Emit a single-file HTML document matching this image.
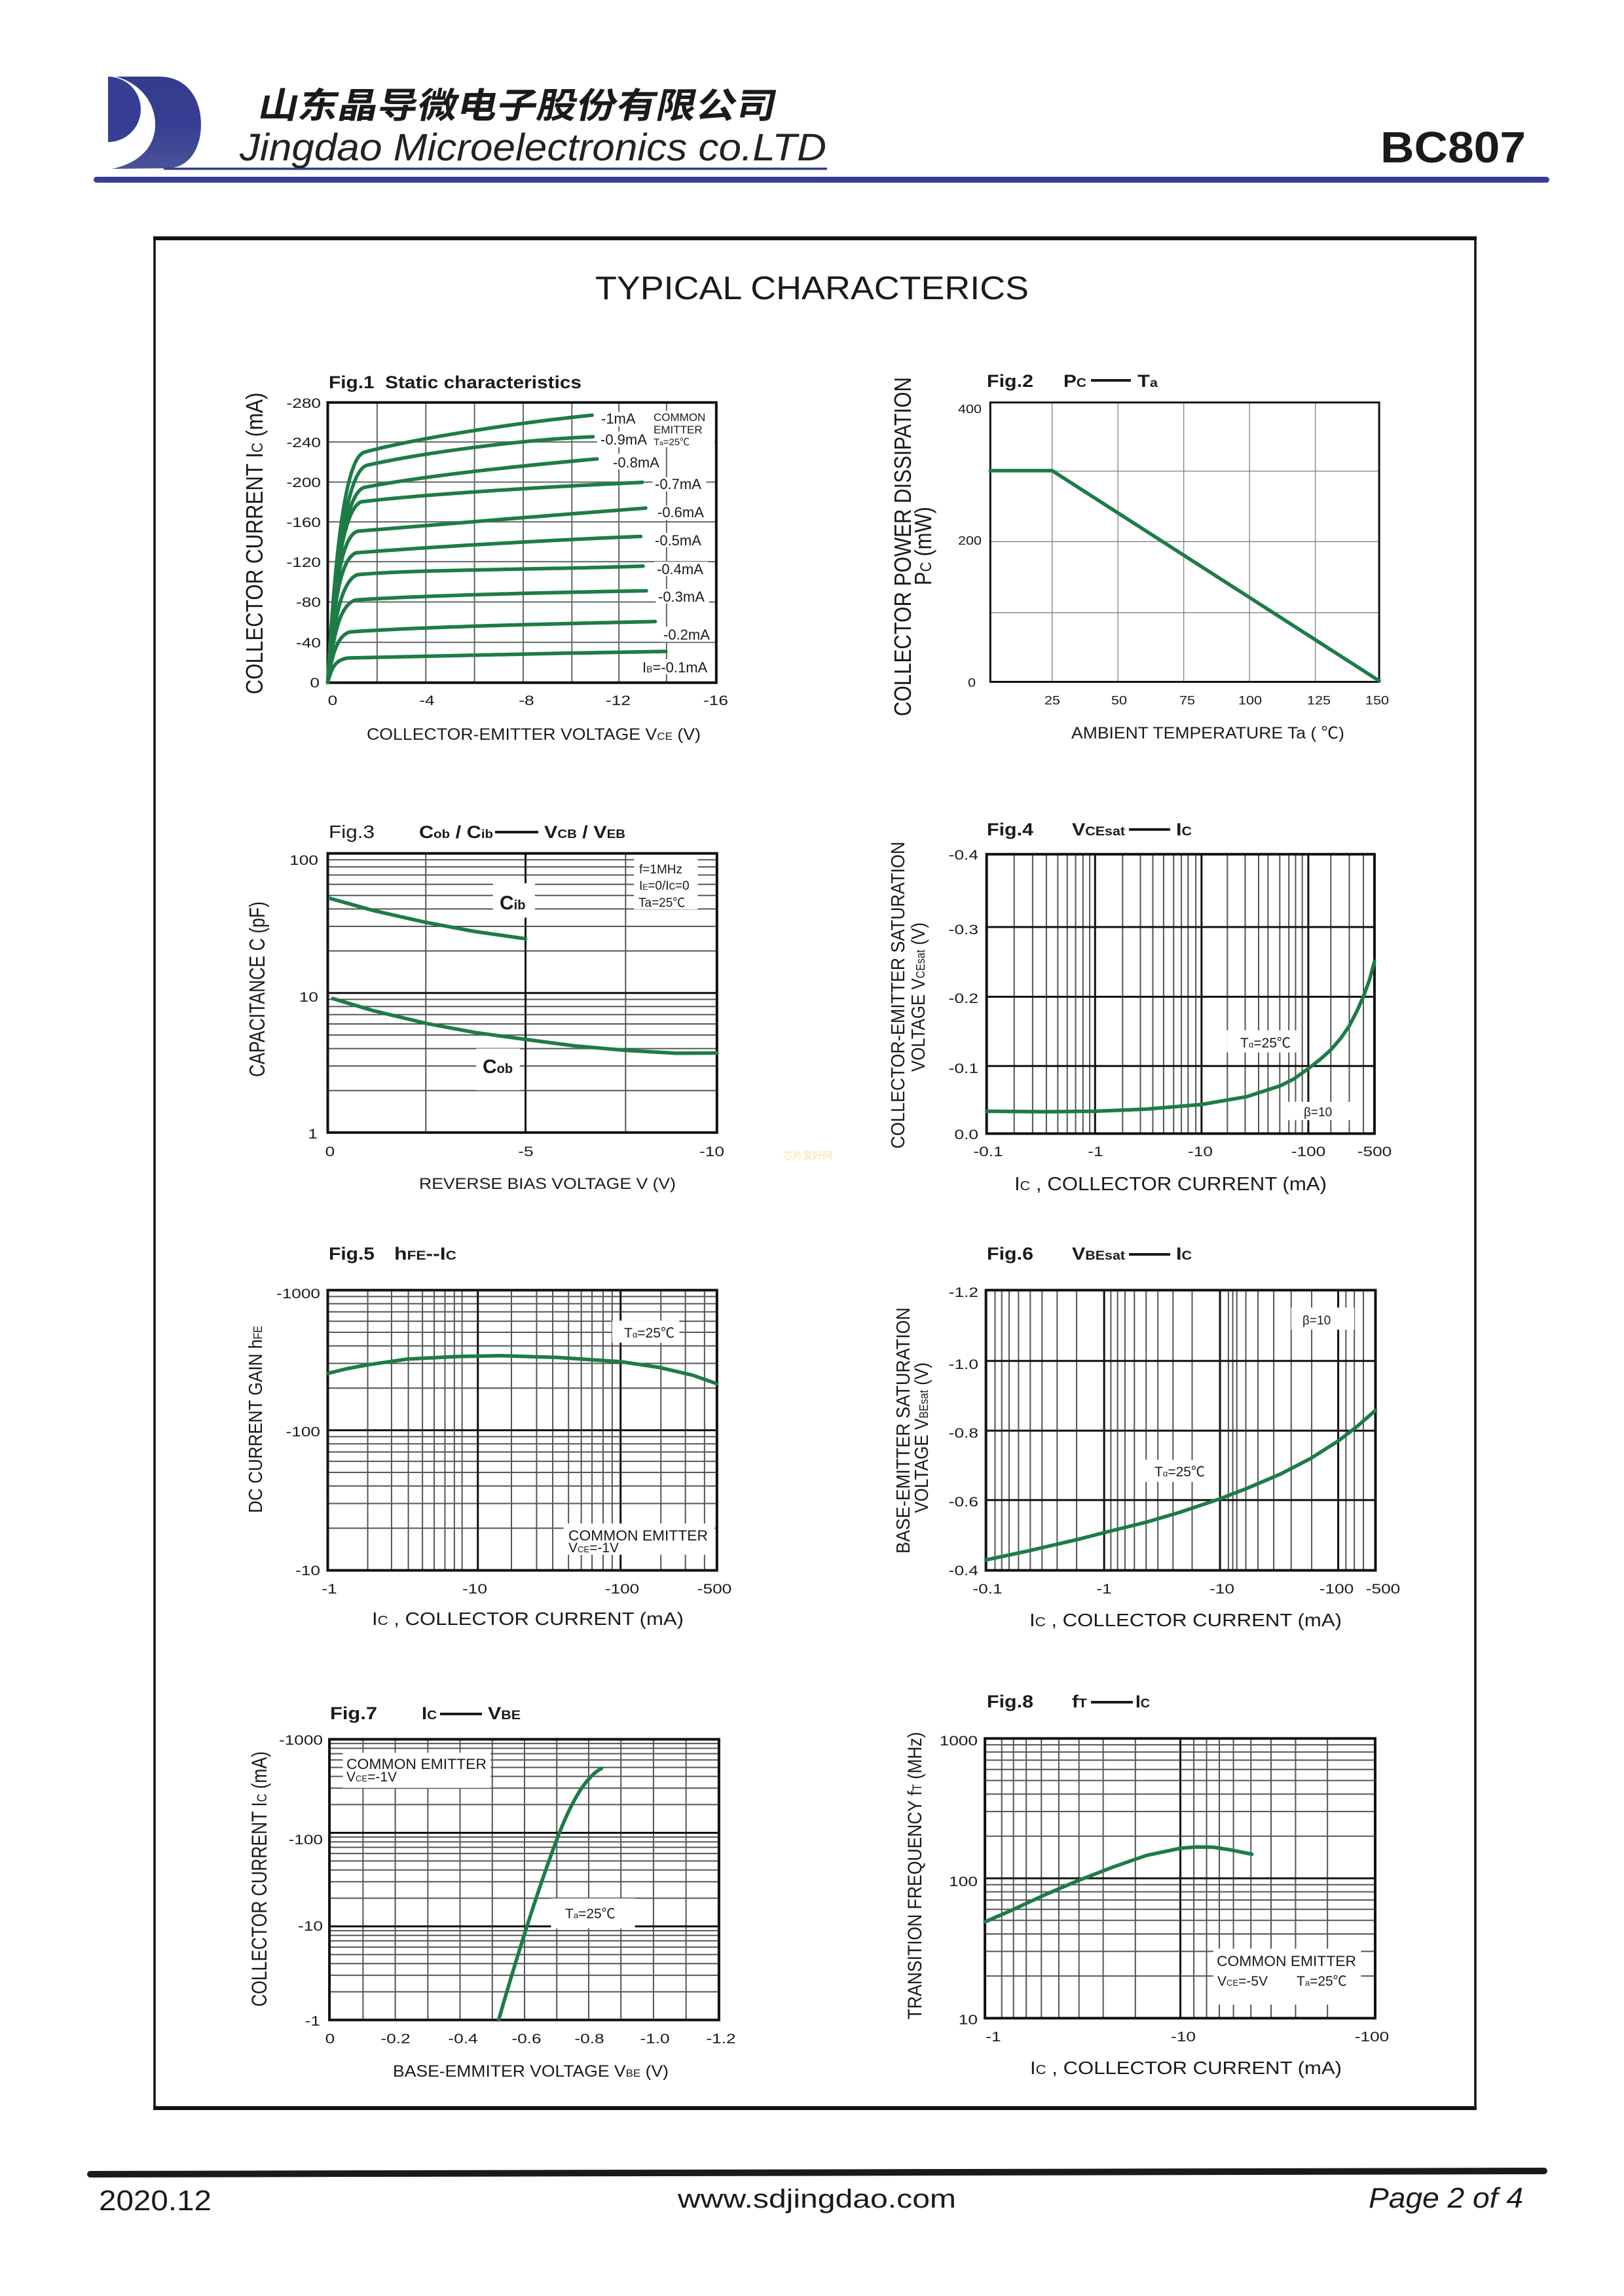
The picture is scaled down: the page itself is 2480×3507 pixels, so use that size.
<!DOCTYPE html>
<html><head><meta charset="utf-8"><style>
html,body{margin:0;padding:0;background:#fff;}
svg{display:block;}
text{font-family:"Liberation Sans","Noto Sans CJK SC",sans-serif;fill:#1a1a1a;}
.g{fill:none;stroke:#555;stroke-width:2;}
.g1{fill:none;stroke:#666;stroke-width:2;}
.mj{fill:none;stroke:#111;stroke-width:3;}
.bx{fill:none;stroke:#111;stroke-width:4;}
.cv{fill:none;stroke:#1d7c46;stroke-width:5.5;stroke-linecap:round;stroke-linejoin:round;}
.wb{fill:#fff;stroke:none;}
.tk{font-size:21px;}
.tk2{font-size:18px;fill:#333;}
.lb{font-size:22px;}
.tt{font-size:27px;font-weight:bold;}
</style></head><body>
<svg width="2480" height="3507" viewBox="0 0 2480 3507" xmlns="http://www.w3.org/2000/svg">
<defs>
<linearGradient id="lg" x1="0" y1="0" x2="0" y2="1">
<stop offset="0" stop-color="#343c8e"/><stop offset="0.5" stop-color="#353e92"/><stop offset="1" stop-color="#4a5298"/>
</linearGradient>
</defs>
<rect x="0" y="0" width="2480" height="3507" fill="#fff"/>

<!-- HEADER -->
<path d="M165,117 L243,117 C285,117 307,150 307,190 C307,228 288,257 255,257 L165,258 Z" fill="url(#lg)"/>
<path d="M165,117 L177,117 C217,128 238,160 237,192 C236,228 208,252 165,259 Z" fill="#fff"/>
<path d="M165,117 A50,50 0 0 1 165,217 Z" fill="#353e92"/>
<rect x="250" y="256" width="1013" height="3.5" fill="#353e92"/>
<text transform="translate(392,180) skewX(-12)" font-size="54" font-weight="bold" textLength="790" lengthAdjust="spacingAndGlyphs" style='font-family:"Noto Sans CJK SC","WenQuanYi Zen Hei",sans-serif'>山东晶导微电子股份有限公司</text>
<text x="366" y="245" font-size="58" font-style="italic" textLength="896" lengthAdjust="spacingAndGlyphs" style="fill:#222">Jingdao Microelectronics co.LTD</text>
<text x="2108" y="248" font-size="67" font-weight="bold" textLength="222" lengthAdjust="spacingAndGlyphs">BC807</text>
<rect x="143" y="270" width="2223" height="9" rx="4.5" fill="#373f94"/>

<!-- FRAME -->
<rect x="236" y="364" width="2017" height="2856" fill="none" stroke="#111" stroke-width="3.5"/>
<rect x="234" y="361" width="2021" height="6" fill="#111"/>
<rect x="234" y="3217" width="2021" height="6" fill="#111"/>
<text x="909" y="457" font-size="50" textLength="662" lengthAdjust="spacingAndGlyphs">TYPICAL CHARACTERICS</text>

<!-- ================= FIG 1 ================= -->
<g transform="translate(340,540) scale(0.5128,0.3974)">
<path class="g1" vector-effect="non-scaling-stroke" d="M460,188V1265M605,188V1265M750,188V1265M895,188V1265M1040,188V1265M1180,188V1265M1322,188V1265M313,340H1470M313,494H1470M313,647H1470M313,800H1470M313,955H1470M313,1110H1470"/>
<rect class="wb" x="1115" y="225" width="130" height="55"/>
<rect class="wb" x="1275" y="220" width="190" height="140"/>
<rect class="wb" x="1115" y="300" width="160" height="60"/>
<rect class="wb" x="1155" y="385" width="160" height="60"/>
<rect class="wb" x="1280" y="475" width="160" height="55"/>
<rect class="wb" x="1285" y="585" width="160" height="55"/>
<rect class="wb" x="1280" y="690" width="160" height="55"/>
<rect class="wb" x="1285" y="800" width="160" height="55"/>
<rect class="wb" x="1290" y="905" width="158" height="55"/>
<rect class="wb" x="1305" y="1050" width="160" height="58"/>
<rect class="wb" x="1245" y="1175" width="217" height="57"/>
<rect class="bx" vector-effect="non-scaling-stroke" x="313" y="188" width="1157" height="1077"/>
<g class="cv" vector-effect="non-scaling-stroke">
<path vector-effect="non-scaling-stroke" d="M313,1265 C325,1200 340,1175 375,1170 C600,1162 1000,1152 1320,1145"/>
<path vector-effect="non-scaling-stroke" d="M313,1265 C325,1150 345,1080 380,1070 C600,1050 1000,1038 1288,1030"/>
<path vector-effect="non-scaling-stroke" d="M313,1265 C328,1080 350,960 398,947 C600,930 1000,918 1262,912"/>
<path vector-effect="non-scaling-stroke" d="M313,1265 C330,1020 355,870 402,850 C550,830 1000,830 1252,817"/>
<path vector-effect="non-scaling-stroke" d="M313,1265 C330,960 350,790 397,766 C600,745 1000,715 1245,703"/>
<path vector-effect="non-scaling-stroke" d="M313,1265 C330,900 355,700 402,683 C600,660 1000,620 1260,594"/>
<path vector-effect="non-scaling-stroke" d="M313,1265 C332,850 360,600 412,570 C600,540 1000,510 1250,495"/>
<path vector-effect="non-scaling-stroke" d="M313,1265 C335,820 365,545 420,515 C600,470 900,430 1115,405"/>
<path vector-effect="non-scaling-stroke" d="M313,1265 C337,780 370,460 428,430 C600,380 900,330 1103,320"/>
<path vector-effect="non-scaling-stroke" d="M313,1265 C335,760 365,410 420,380 C560,330 850,270 1100,237"/>
</g>
</g>
<text class="tt" x="502" y="593" textLength="386" lengthAdjust="spacingAndGlyphs">Fig.1&#160; Static characteristics</text>
<g class="tk" text-anchor="end">
<text x="490" y="623" textLength="52.5" lengthAdjust="spacingAndGlyphs">-280</text>
<text x="490" y="683" textLength="52.5" lengthAdjust="spacingAndGlyphs">-240</text>
<text x="490" y="744" textLength="52.5" lengthAdjust="spacingAndGlyphs">-200</text>
<text x="490" y="805" textLength="52.5" lengthAdjust="spacingAndGlyphs">-160</text>
<text x="490" y="866" textLength="52.5" lengthAdjust="spacingAndGlyphs">-120</text>
<text x="490" y="927" textLength="38" lengthAdjust="spacingAndGlyphs">-80</text>
<text x="490" y="989" textLength="38" lengthAdjust="spacingAndGlyphs">-40</text>
<text x="488" y="1050" textLength="14.6" lengthAdjust="spacingAndGlyphs">0</text>
</g>
<g class="tk" text-anchor="middle">
<text x="508" y="1077" textLength="14.6" lengthAdjust="spacingAndGlyphs">0</text>
<text x="652" y="1077" textLength="23.4" lengthAdjust="spacingAndGlyphs">-4</text>
<text x="804" y="1077" textLength="23.4" lengthAdjust="spacingAndGlyphs">-8</text>
<text x="944" y="1077" textLength="38" lengthAdjust="spacingAndGlyphs">-12</text>
<text x="1093" y="1077" textLength="38" lengthAdjust="spacingAndGlyphs">-16</text>
</g>
<g class="lb">
<text x="918" y="647">-1mA</text>
<text x="917" y="679">-0.9mA</text>
<text x="936" y="714">-0.8mA</text>
<text x="1000" y="747">-0.7mA</text>
<text x="1004" y="790">-0.6mA</text>
<text x="1000" y="833">-0.5mA</text>
<text x="1003" y="877">-0.4mA</text>
<text x="1005" y="919">-0.3mA</text>
<text x="1013" y="977">-0.2mA</text>
<text x="981" y="1027">I<tspan font-size="14">B</tspan>=-0.1mA</text>
</g>
<text x="998" y="643" font-size="17">COMMON</text>
<text x="998" y="662" font-size="17">EMITTER</text>
<text x="998" y="680" font-size="15">T<tspan font-size="10">a</tspan>=25℃</text>
<text transform="translate(401,830) rotate(-90)" text-anchor="middle" font-size="36" textLength="461" lengthAdjust="spacingAndGlyphs">COLLECTOR CURRENT I<tspan font-size="24">C</tspan> (mA)</text>
<text x="560" y="1130" font-size="25" textLength="510" lengthAdjust="spacingAndGlyphs">COLLECTOR-EMITTER VOLTAGE V<tspan font-size="16">CE</tspan> (V)</text>

<!-- ================= FIG 2 ================= -->
<g transform="translate(1340,540) scale(0.5128,0.3974)">
<path fill="none" stroke="#808080" stroke-width="1.3" vector-effect="non-scaling-stroke" d="M520,188V1262M716,188V1262M912,188V1262M1108,188V1262M1304,188V1262M336,452H1494M336,723H1494M336,996H1494"/>
<rect fill="none" stroke="#111" stroke-width="3" vector-effect="non-scaling-stroke" x="336" y="188" width="1158" height="1074"/>
<path class="cv" vector-effect="non-scaling-stroke" d="M336,450 L520,450 L1494,1258"/>
</g>
<text class="tt" x="1507" y="591" textLength="71" lengthAdjust="spacingAndGlyphs">Fig.2</text>
<text class="tt" x="1624" y="591" font-size="30" textLength="35" lengthAdjust="spacingAndGlyphs">P<tspan font-size="19">C</tspan></text>
<rect x="1666" y="579" width="61" height="4" fill="#1a1a1a"/>
<text class="tt" x="1737" y="591" font-size="30" textLength="31" lengthAdjust="spacingAndGlyphs">T<tspan font-size="19">a</tspan></text>
<g class="tk2" text-anchor="end">
<text x="1499" y="631" textLength="36" lengthAdjust="spacingAndGlyphs">400</text>
<text x="1499" y="832" textLength="36" lengthAdjust="spacingAndGlyphs">200</text>
<text x="1490" y="1049" textLength="12" lengthAdjust="spacingAndGlyphs">0</text>
</g>
<g class="tk2" text-anchor="middle">
<text x="1607" y="1076" textLength="24" lengthAdjust="spacingAndGlyphs">25</text>
<text x="1709" y="1076" textLength="24" lengthAdjust="spacingAndGlyphs">50</text>
<text x="1813" y="1076" textLength="24" lengthAdjust="spacingAndGlyphs">75</text>
<text x="1909" y="1076" textLength="36" lengthAdjust="spacingAndGlyphs">100</text>
<text x="2014" y="1076" textLength="36" lengthAdjust="spacingAndGlyphs">125</text>
<text x="2103" y="1076" textLength="36" lengthAdjust="spacingAndGlyphs">150</text>
</g>
<text transform="translate(1391,835) rotate(-90)" text-anchor="middle" font-size="36" textLength="518" lengthAdjust="spacingAndGlyphs">COLLECTOR POWER DISSIPATION</text>
<text transform="translate(1422,834) rotate(-90)" text-anchor="middle" font-size="36" textLength="120" lengthAdjust="spacingAndGlyphs">P<tspan font-size="24">C</tspan> (mW)</text>
<text x="1636" y="1128" font-size="25" textLength="417" lengthAdjust="spacingAndGlyphs">AMBIENT TEMPERATURE Ta ( ℃)</text>

<!-- ================= FIG 3 ================= -->
<g transform="translate(340,1230) scale(0.5128,0.3974)">
<path class="g" vector-effect="non-scaling-stroke" d="M313,1096.5H1472M313,1002H1472M313,935H1472M313,883H1472M313,840.5H1472M313,804.6H1472M313,773.5H1472M313,746H1472M313,560H1472M313,465.5H1472M313,398.5H1472M313,346.5H1472M313,304H1472M313,268H1472M313,237H1472M313,209.5H1472M605,185V1258M1200,185V1258"/>
<path class="mj" vector-effect="non-scaling-stroke" d="M313,721.5H1472M902,185V1258"/>
<rect class="wb" x="805" y="300" width="125" height="132"/>
<rect class="wb" x="755" y="935" width="130" height="160"/>
<rect class="wb" x="1225" y="205" width="190" height="195"/>
<rect class="bx" vector-effect="non-scaling-stroke" x="313" y="185" width="1159" height="1073"/>
<polyline class="cv" vector-effect="non-scaling-stroke" points="320,358 450,405 605,450 750,485 902,513"/>
<polyline class="cv" vector-effect="non-scaling-stroke" points="328,743 450,790 605,838 750,873 902,900 1050,925 1200,942 1350,953 1472,952"/>
</g>
<text x="502" y="1280" font-size="28" textLength="70" lengthAdjust="spacingAndGlyphs">Fig.3</text>
<text class="tt" x="640" y="1280" font-size="29" textLength="113" lengthAdjust="spacingAndGlyphs">C<tspan font-size="18">ob</tspan> / C<tspan font-size="18">ib</tspan></text>
<rect x="756" y="1269" width="66" height="4" fill="#1a1a1a"/>
<text class="tt" x="831" y="1280" font-size="29" textLength="124" lengthAdjust="spacingAndGlyphs">V<tspan font-size="18">CB</tspan> / V<tspan font-size="18">EB</tspan></text>
<g class="tk" text-anchor="end">
<text x="486" y="1321" textLength="43.8" lengthAdjust="spacingAndGlyphs">100</text>
<text x="486" y="1530" textLength="29.2" lengthAdjust="spacingAndGlyphs">10</text>
<text x="485" y="1739" textLength="14.6" lengthAdjust="spacingAndGlyphs">1</text>
</g>
<g class="tk" text-anchor="middle">
<text x="504" y="1766" textLength="14.6" lengthAdjust="spacingAndGlyphs">0</text>
<text x="803" y="1766" textLength="23.4" lengthAdjust="spacingAndGlyphs">-5</text>
<text x="1087" y="1766" textLength="38" lengthAdjust="spacingAndGlyphs">-10</text>
</g>
<text x="763" y="1389" font-size="30" font-weight="bold">C<tspan font-size="20">ib</tspan></text>
<text x="737" y="1639" font-size="30" font-weight="bold">C<tspan font-size="20">ob</tspan></text>
<text x="976" y="1334" font-size="19">f=1MHz</text>
<text x="976" y="1359" font-size="19">I<tspan font-size="12">E</tspan>=0/Ic=0</text>
<text x="975" y="1385" font-size="19">Ta=25℃</text>
<text x="1196" y="1770" font-size="15" style="fill:#f1e4a8">芯片爱好网</text>
<text transform="translate(404,1511) rotate(-90)" text-anchor="middle" font-size="33" textLength="268" lengthAdjust="spacingAndGlyphs">CAPACITANCE C (pF)</text>
<text x="640" y="1816" font-size="24" textLength="392" lengthAdjust="spacingAndGlyphs">REVERSE BIAS VOLTAGE V (V)</text>

<!-- ================= FIG 4 ================= -->
<g transform="translate(1340,1230) scale(0.5128,0.3974)">
<path class="g" vector-effect="non-scaling-stroke" d="M407,188V1262M462,188V1262M503,188V1262M537,188V1262M565,188V1262M590,188V1262M612,188V1262M632,188V1262M730,188V1262M783,188V1262M820,188V1262M852,188V1262M882,188V1262M905,188V1262M925,188V1262M948,188V1262M1042,188V1262M1095,188V1262M1135,188V1262M1163,188V1262M1198,188V1262M1225,188V1262M1245,188V1262M1265,188V1262M1350,188V1262M1405,188V1262M1447,188V1262"/>
<path class="mj" vector-effect="non-scaling-stroke" d="M648,188V1262M965,188V1262M1283,188V1262M325,468H1480M325,736H1480M325,1002H1480"/>
<rect class="wb" x="1040" y="865" width="210" height="85"/>
<rect class="wb" x="1220" y="1140" width="190" height="70"/>
<rect class="bx" vector-effect="non-scaling-stroke" x="325" y="188" width="1155" height="1074"/>
<polyline class="cv" vector-effect="non-scaling-stroke" points="325,1176 500,1178 648,1176 800,1168 965,1150 1100,1120 1200,1078 1240,1052 1283,1012 1320,975 1350,940 1380,895 1405,848 1430,785 1447,735 1465,672 1480,600"/>
</g>
<text class="tt" x="1507" y="1276" textLength="71" lengthAdjust="spacingAndGlyphs">Fig.4</text>
<text class="tt" x="1637" y="1276" font-size="30" textLength="81" lengthAdjust="spacingAndGlyphs">V<tspan font-size="19">CEsat</tspan></text>
<rect x="1724" y="1265" width="63" height="4" fill="#1a1a1a"/>
<text class="tt" x="1796" y="1276" font-size="30" textLength="24" lengthAdjust="spacingAndGlyphs">I<tspan font-size="19">C</tspan></text>
<g class="tk" text-anchor="end">
<text x="1494" y="1313" textLength="45.3" lengthAdjust="spacingAndGlyphs">-0.4</text>
<text x="1494" y="1427" textLength="45.3" lengthAdjust="spacingAndGlyphs">-0.3</text>
<text x="1494" y="1532" textLength="45.3" lengthAdjust="spacingAndGlyphs">-0.2</text>
<text x="1494" y="1639" textLength="45.3" lengthAdjust="spacingAndGlyphs">-0.1</text>
<text x="1494" y="1740" textLength="36.5" lengthAdjust="spacingAndGlyphs">0.0</text>
</g>
<g class="tk" text-anchor="middle">
<text x="1509" y="1766" textLength="45.3" lengthAdjust="spacingAndGlyphs">-0.1</text>
<text x="1673" y="1766" textLength="23.4" lengthAdjust="spacingAndGlyphs">-1</text>
<text x="1833" y="1766" textLength="38" lengthAdjust="spacingAndGlyphs">-10</text>
<text x="1998" y="1766" textLength="52.5" lengthAdjust="spacingAndGlyphs">-100</text>
<text x="2099" y="1766" textLength="52.5" lengthAdjust="spacingAndGlyphs">-500</text>
</g>
<text x="1894" y="1600" font-size="21">T<tspan font-size="13">α</tspan>=25℃</text>
<text x="1991" y="1705" font-size="19">β=10</text>
<text transform="translate(1381,1520) rotate(-90)" text-anchor="middle" font-size="29" textLength="469" lengthAdjust="spacingAndGlyphs">COLLECTOR-EMITTER SATURATION</text>
<text transform="translate(1412,1523) rotate(-90)" text-anchor="middle" font-size="29" textLength="228" lengthAdjust="spacingAndGlyphs">VOLTAGE V<tspan font-size="18">CEsat</tspan> (V)</text>
<text x="1549" y="1818" font-size="29" textLength="477" lengthAdjust="spacingAndGlyphs">I<tspan font-size="20">C</tspan> , COLLECTOR CURRENT (mA)</text>

<!-- ================= FIG 5 ================= -->
<g transform="translate(340,1880) scale(0.5128,0.3974)">
<path class="g" vector-effect="non-scaling-stroke" d="M313,1142.9H1472M313,1048.1H1472M313,980.8H1472M313,928.6H1472M313,886H1472M313,849.9H1472M313,818.7H1472M313,791.1H1472M313,604.4H1472M313,509.6H1472M313,442.3H1472M313,390.1H1472M313,347.5H1472M313,311.4H1472M313,280.2H1472M313,252.6H1472M432,228V1305M503,228V1305M553,228V1305M595,228V1305M630,228V1305M662,228V1305M690,228V1305M713,228V1305M860,228V1305M935,228V1305M983,228V1305M1030,228V1305M1068,228V1305M1100,228V1305M1133,228V1305M1160,228V1305M1305,228V1305M1378,228V1305M1435,228V1305"/>
<path class="mj" vector-effect="non-scaling-stroke" d="M313,766.5H1472M760,228V1305M1185,228V1305"/>
<rect class="wb" x="1160" y="345" width="200" height="85"/>
<rect class="wb" x="1015" y="1125" width="450" height="120"/>
<rect class="bx" vector-effect="non-scaling-stroke" x="313" y="228" width="1159" height="1077"/>
<polyline class="cv" vector-effect="non-scaling-stroke" points="313,548 370,530 432,515 550,493 700,483 830,480 1000,487 1185,503 1300,525 1400,555 1472,588"/>
</g>
<text class="tt" x="502" y="1924" textLength="70" lengthAdjust="spacingAndGlyphs">Fig.5</text>
<text class="tt" x="602" y="1924" font-size="30" textLength="95" lengthAdjust="spacingAndGlyphs">h<tspan font-size="19">FE</tspan>--I<tspan font-size="19">C</tspan></text>
<g class="tk" text-anchor="end">
<text x="489" y="1983" textLength="67" lengthAdjust="spacingAndGlyphs">-1000</text>
<text x="489" y="2194" textLength="52.5" lengthAdjust="spacingAndGlyphs">-100</text>
<text x="489" y="2406" textLength="38" lengthAdjust="spacingAndGlyphs">-10</text>
</g>
<g class="tk" text-anchor="middle">
<text x="503" y="2434" textLength="23.4" lengthAdjust="spacingAndGlyphs">-1</text>
<text x="725" y="2434" textLength="38" lengthAdjust="spacingAndGlyphs">-10</text>
<text x="950" y="2434" textLength="52.5" lengthAdjust="spacingAndGlyphs">-100</text>
<text x="1091" y="2434" textLength="52.5" lengthAdjust="spacingAndGlyphs">-500</text>
</g>
<text x="953" y="2043" font-size="21">T<tspan font-size="13">α</tspan>=25℃</text>
<text x="868" y="2353" font-size="22" textLength="213" lengthAdjust="spacingAndGlyphs">COMMON EMITTER</text>
<text x="868" y="2371" font-size="21">V<tspan font-size="13">CE</tspan>=-1V</text>
<text transform="translate(400,2168) rotate(-90)" text-anchor="middle" font-size="29" textLength="286" lengthAdjust="spacingAndGlyphs">DC CURRENT GAIN h<tspan font-size="18">FE</tspan></text>
<text x="568" y="2482" font-size="28" textLength="476" lengthAdjust="spacingAndGlyphs">I<tspan font-size="20">C</tspan> , COLLECTOR CURRENT (mA)</text>

<!-- ================= FIG 6 ================= -->
<g transform="translate(1340,1880) scale(0.5128,0.3974)">
<path class="g" vector-effect="non-scaling-stroke" d="M350,228V1305M370,228V1305M392,228V1305M420,228V1305M455,228V1305M490,228V1305M535,228V1305M593,228V1305M695,228V1305M715,228V1305M737,228V1305M765,228V1305M800,228V1305M835,228V1305M880,228V1305M937,228V1305M1045,228V1305M1058,228V1305M1070,228V1305M1097,228V1305M1133,228V1305M1180,228V1305M1232,228V1305M1293,228V1305M1395,228V1305M1420,228V1305M1447,228V1305"/>
<path class="mj" vector-effect="non-scaling-stroke" d="M675,228V1305M1020,228V1305M1372,228V1305M323,500H1483M323,768H1483M323,1035H1483"/>
<rect class="wb" x="1232" y="295" width="188" height="85"/>
<rect class="wb" x="770" y="880" width="230" height="85"/>
<rect class="bx" vector-effect="non-scaling-stroke" x="323" y="228" width="1160" height="1077"/>
<polyline class="cv" vector-effect="non-scaling-stroke" points="323,1265 450,1230 600,1185 675,1160 800,1120 900,1082 1020,1030 1100,990 1200,935 1290,875 1372,808 1430,750 1483,690"/>
</g>
<text class="tt" x="1507" y="1924" textLength="71" lengthAdjust="spacingAndGlyphs">Fig.6</text>
<text class="tt" x="1637" y="1924" font-size="30" textLength="81" lengthAdjust="spacingAndGlyphs">V<tspan font-size="19">BEsat</tspan></text>
<rect x="1724" y="1914" width="63" height="4" fill="#1a1a1a"/>
<text class="tt" x="1796" y="1924" font-size="30" textLength="24" lengthAdjust="spacingAndGlyphs">I<tspan font-size="19">C</tspan></text>
<g class="tk" text-anchor="end">
<text x="1494" y="1981" textLength="45.3" lengthAdjust="spacingAndGlyphs">-1.2</text>
<text x="1494" y="2091" textLength="45.3" lengthAdjust="spacingAndGlyphs">-1.0</text>
<text x="1494" y="2196" textLength="45.3" lengthAdjust="spacingAndGlyphs">-0.8</text>
<text x="1494" y="2301" textLength="45.3" lengthAdjust="spacingAndGlyphs">-0.6</text>
<text x="1494" y="2406" textLength="45.3" lengthAdjust="spacingAndGlyphs">-0.4</text>
</g>
<g class="tk" text-anchor="middle">
<text x="1508" y="2434" textLength="45.3" lengthAdjust="spacingAndGlyphs">-0.1</text>
<text x="1686" y="2434" textLength="23.4" lengthAdjust="spacingAndGlyphs">-1</text>
<text x="1866" y="2434" textLength="38" lengthAdjust="spacingAndGlyphs">-10</text>
<text x="2041" y="2434" textLength="52.5" lengthAdjust="spacingAndGlyphs">-100</text>
<text x="2112" y="2434" textLength="52.5" lengthAdjust="spacingAndGlyphs">-500</text>
</g>
<text x="1989" y="2023" font-size="19">β=10</text>
<text x="1763" y="2255" font-size="21">T<tspan font-size="13">α</tspan>=25℃</text>
<text transform="translate(1389,2185) rotate(-90)" text-anchor="middle" font-size="29" textLength="376" lengthAdjust="spacingAndGlyphs">BASE-EMITTER SATURATION</text>
<text transform="translate(1417,2196) rotate(-90)" text-anchor="middle" font-size="29" textLength="230" lengthAdjust="spacingAndGlyphs">VOLTAGE V<tspan font-size="18">BEsat</tspan> (V)</text>
<text x="1572" y="2484" font-size="28" textLength="477" lengthAdjust="spacingAndGlyphs">I<tspan font-size="20">C</tspan> , COLLECTOR CURRENT (mA)</text>

<!-- ================= FIG 7 ================= -->
<g transform="translate(340,2560) scale(0.5128,0.3974)">
<path class="g" vector-effect="non-scaling-stroke" d="M318,1213.7H1478M318,1150.4H1478M318,1105.4H1478M318,1070.6H1478M318,1042.1H1478M318,1018H1478M318,997.2H1478M318,978.8H1478M318,854H1478M318,790.7H1478M318,745.7H1478M318,710.9H1478M318,682.4H1478M318,658.3H1478M318,637.5H1478M318,619.1H1478M318,494.3H1478M318,431H1478M318,386H1478M318,351.2H1478M318,322.7H1478M318,298.6H1478M318,277.8H1478M318,259.4H1478M418,243V1322M514,243V1322M611,243V1322M707,243V1322M803,243V1322M899,243V1322M995,243V1322M1090,243V1322M1186,243V1322M1283,243V1322M1380,243V1322"/>
<path class="mj" vector-effect="non-scaling-stroke" d="M318,962.3H1478M318,602.6H1478"/>
<rect class="wb" x="358" y="295" width="440" height="135"/>
<rect class="wb" x="978" y="855" width="250" height="115"/>
<rect class="bx" vector-effect="non-scaling-stroke" x="318" y="243" width="1160" height="1079"/>
<path class="cv" vector-effect="non-scaling-stroke" d="M822,1322 C862,1140 935,830 1000,612 C1040,480 1080,390 1128,355"/>
</g>
<text class="tt" x="504" y="2626" textLength="72" lengthAdjust="spacingAndGlyphs">Fig.7</text>
<text class="tt" x="644" y="2626" font-size="30" textLength="23" lengthAdjust="spacingAndGlyphs">I<tspan font-size="19">C</tspan></text>
<rect x="672" y="2616" width="64" height="4" fill="#1a1a1a"/>
<text class="tt" x="745" y="2626" font-size="30" textLength="50" lengthAdjust="spacingAndGlyphs">V<tspan font-size="19">BE</tspan></text>
<g class="tk" text-anchor="end">
<text x="493" y="2665" textLength="67" lengthAdjust="spacingAndGlyphs">-1000</text>
<text x="493" y="2817" textLength="52.5" lengthAdjust="spacingAndGlyphs">-100</text>
<text x="493" y="2949" textLength="38" lengthAdjust="spacingAndGlyphs">-10</text>
<text x="489" y="3094" textLength="23.4" lengthAdjust="spacingAndGlyphs">-1</text>
</g>
<g class="tk" text-anchor="middle">
<text x="504" y="3121" textLength="14.6" lengthAdjust="spacingAndGlyphs">0</text>
<text x="604" y="3121" textLength="45.3" lengthAdjust="spacingAndGlyphs">-0.2</text>
<text x="707" y="3121" textLength="45.3" lengthAdjust="spacingAndGlyphs">-0.4</text>
<text x="804" y="3121" textLength="45.3" lengthAdjust="spacingAndGlyphs">-0.6</text>
<text x="900" y="3121" textLength="45.3" lengthAdjust="spacingAndGlyphs">-0.8</text>
<text x="1000" y="3121" textLength="45.3" lengthAdjust="spacingAndGlyphs">-1.0</text>
<text x="1101" y="3121" textLength="45.3" lengthAdjust="spacingAndGlyphs">-1.2</text>
</g>
<text x="529" y="2702" font-size="22" textLength="214" lengthAdjust="spacingAndGlyphs">COMMON EMITTER</text>
<text x="529" y="2721" font-size="21">V<tspan font-size="13">CE</tspan>=-1V</text>
<text x="863" y="2930" font-size="21">T<tspan font-size="13">a</tspan>=25℃</text>
<text transform="translate(407,2870) rotate(-90)" text-anchor="middle" font-size="32" textLength="390" lengthAdjust="spacingAndGlyphs">COLLECTOR CURRENT I<tspan font-size="21">C</tspan> (mA)</text>
<text x="600" y="3172" font-size="25" textLength="421" lengthAdjust="spacingAndGlyphs">BASE-EMMITER VOLTAGE V<tspan font-size="16">BE</tspan> (V)</text>

<!-- ================= FIG 8 ================= -->
<g transform="translate(1340,2560) scale(0.5128,0.3974)">
<path class="g" vector-effect="non-scaling-stroke" d="M320,1153.2H1482M320,1058.5H1482M320,991.4H1482M320,939.3H1482M320,896.7H1482M320,860.8H1482M320,829.6H1482M320,802.1H1482M320,615.7H1482M320,521H1482M320,453.9H1482M320,401.8H1482M320,359.2H1482M320,323.3H1482M320,292.1H1482M320,264.6H1482M370,240V1315M405,240V1315M443,240V1315M488,240V1315M540,240V1315M600,240V1315M672,240V1315M768,240V1315M942,240V1315M980,240V1315M1018,240V1315M1060,240V1315M1112,240V1315M1172,240V1315M1245,240V1315M1340,240V1315"/>
<path class="mj" vector-effect="non-scaling-stroke" d="M320,777.5H1482M902,240V1315"/>
<rect class="wb" x="1000" y="1048" width="440" height="215"/>
<rect class="bx" vector-effect="non-scaling-stroke" x="320" y="240" width="1162" height="1075"/>
<polyline class="cv" vector-effect="non-scaling-stroke" points="320,945 400,900 500,840 600,785 700,735 800,690 902,662 950,657 1000,658 1050,668 1115,685"/>
</g>
<text class="tt" x="1507" y="2608" textLength="71" lengthAdjust="spacingAndGlyphs">Fig.8</text>
<text class="tt" x="1637" y="2608" font-size="30" textLength="23" lengthAdjust="spacingAndGlyphs">f<tspan font-size="19">T</tspan></text>
<rect x="1666" y="2598" width="64" height="4" fill="#1a1a1a"/>
<text class="tt" x="1734" y="2608" font-size="30" textLength="22" lengthAdjust="spacingAndGlyphs">I<tspan font-size="19">C</tspan></text>
<g class="tk" text-anchor="end">
<text x="1493" y="2666" textLength="58.4" lengthAdjust="spacingAndGlyphs">1000</text>
<text x="1493" y="2881" textLength="43.8" lengthAdjust="spacingAndGlyphs">100</text>
<text x="1493" y="3092" textLength="29.2" lengthAdjust="spacingAndGlyphs">10</text>
</g>
<g class="tk" text-anchor="middle">
<text x="1517" y="3118" textLength="23.4" lengthAdjust="spacingAndGlyphs">-1</text>
<text x="1807" y="3118" textLength="38" lengthAdjust="spacingAndGlyphs">-10</text>
<text x="2095" y="3118" textLength="52.5" lengthAdjust="spacingAndGlyphs">-100</text>
</g>
<text x="1858" y="3003" font-size="22" textLength="213" lengthAdjust="spacingAndGlyphs">COMMON EMITTER</text>
<text x="1859" y="3033" font-size="21">V<tspan font-size="13">CE</tspan>=-5V</text>
<text x="1980" y="3033" font-size="21">T<tspan font-size="13">a</tspan>=25℃</text>
<text transform="translate(1407,2865) rotate(-90)" text-anchor="middle" font-size="30" textLength="439" lengthAdjust="spacingAndGlyphs">TRANSITION FREQUENCY f<tspan font-size="19">T</tspan> (MHz)</text>
<text x="1573" y="3168" font-size="28" textLength="476" lengthAdjust="spacingAndGlyphs">I<tspan font-size="20">C</tspan> , COLLECTOR CURRENT (mA)</text>

<!-- FOOTER -->
<line x1="138" y1="3321" x2="2358" y2="3316" stroke="#1a1a1a" stroke-width="10" stroke-linecap="round"/>
<text x="151" y="3376" font-size="44" textLength="172" lengthAdjust="spacingAndGlyphs">2020.12</text>
<text x="1035" y="3372" font-size="40" textLength="425" lengthAdjust="spacingAndGlyphs">www.sdjingdao.com</text>
<text x="2090" y="3372" font-size="44" font-style="italic" textLength="236" lengthAdjust="spacingAndGlyphs">Page 2 of 4</text>
</svg>
</body></html>
